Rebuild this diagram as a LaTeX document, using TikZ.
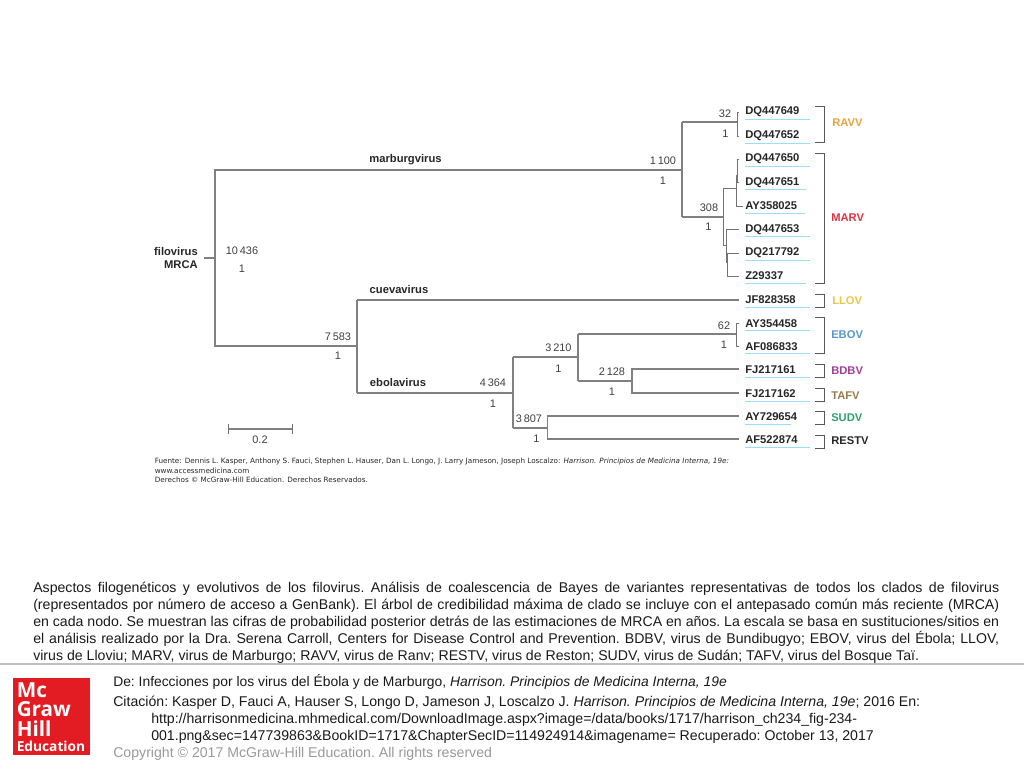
\documentclass[tikz,border=0pt]{standalone}
\usepackage{fontspec}
\setmainfont{Liberation Sans}
\newfontfamily\srcfont{DejaVu Sans}
\newfontfamily\logofont{Open Sans}
\usetikzlibrary{positioning,calc}

\begin{document}
\begin{tikzpicture}[
	x=0.75pt,y=-0.75pt,
	branch/.style={draw=black!50,line width=0.85pt},
	twig/.style={draw=black!55,line width=0.6pt},
	uline/.style={draw=cyan!40!white,line width=0.7pt},
	brack/.style={draw=black!65,line width=0.6pt},
	leaf/.style={anchor=west,inner sep=0pt,text width=48pt,minimum height=10.5pt,
		font=\fontsize{8.4}{10}\selectfont\bfseries,text=black!85,
		append after command={(\tikzlastnode.south west) edge[uline] (\tikzlastnode.south east)}},
	clade/.style={anchor=west,inner sep=0pt,font=\fontsize{8.4}{10}\selectfont\bfseries},
	age/.style={inner sep=0pt,font=\fontsize{8.2}{10}\selectfont,text=black!75},
	genus/.style={inner sep=0pt,font=\fontsize{8.4}{10}\selectfont\bfseries,text=black!85},
	source/.style={anchor=west,inner sep=0pt,font=\fontsize{5.42}{7}\srcfont,text=black!85},
	caption/.style={anchor=west,inner sep=0pt,font=\fontsize{10.6}{12}\selectfont\frenchspacing,text=black!90},
	logo/.style={anchor=west,inner sep=0pt,text=white,font=\fontsize{15.5}{15.5}\logofont\bfseries}
	]
	\useasboundingbox (0,0) rectangle (1024,768);
	
	% leaves
	\node[leaf] (dqa) at (745,112) {DQ447649};
	\node[leaf] (dqb) at (745,136) {DQ447652};
	\node[leaf] (dqc) at (745,159) {DQ447650};
	\node[leaf,text width=45.5pt] (dqd) at (745,182.5) {DQ447651};
	\node[leaf,text width=44.5pt] (ayc) at (745,206) {AY358025};
	\node[leaf] (dqe) at (745,229.5) {DQ447653};
	\node[leaf] (dqf) at (745,253) {DQ217792};
	\node[leaf,text width=45.5pt] (zed) at (745,276) {Z29337};
	\node[leaf] (jfa) at (745,300) {JF828358};
	\node[leaf] (aya) at (745,323.5) {AY354458};
	\node[leaf] (afa) at (745,346.5) {AF086833};
	\node[leaf] (fja) at (745,370) {FJ217161};
	\node[leaf] (fjb) at (745,394) {FJ217162};
	\node[leaf,text width=34pt] (ayb) at (745,417) {AY729654};
	\node[leaf] (afb) at (745,440) {AF522874};
	
	% junctions
	\coordinate (rootup) at (215,170);
	\coordinate (rootdn) at (215,346);
	\coordinate (rootst) at (204,258);
	\coordinate (marb) at (682,170);
	\coordinate (ravv) at (737.5,122);
	\coordinate (marv) at (723,217);
	\coordinate (mara) at (736,188);
	\coordinate (marc) at (737.5,175);
	\coordinate (mard) at (726,245);
	\coordinate (mare) at (727.5,262);
	\coordinate (low) at (357,346);
	\coordinate (ebol) at (513,393);
	\coordinate (ebta) at (578,357);
	\coordinate (ebov) at (736,334);
	\coordinate (ebtb) at (632,381);
	\coordinate (sure) at (547.5,428);
	
	% tree
	\draw[branch] (rootst)--(rootst-|rootup);
	\draw[branch] (marb)--(rootup)--(rootdn)--(low);
	\draw[branch] (marb|-ravv)--(marb|-marv);
	\draw[branch] (marb|-ravv)--(ravv);
	\draw[branch] (marb|-marv)--(marv);
	\draw[twig] (ravv|-dqa)--(ravv|-dqb);
	\draw[twig] ($(dqa.west)+(-6,0)$)-|(ravv);
	\draw[twig] ($(dqb.west)+(-6,0)$)-|(ravv);
	\draw[twig] (marv|-mara)--(marv|-mard);
	\draw[twig] (marv|-mara)--(mara);
	\draw[twig] (mara|-marc)--(marc);
	\draw[twig] (mara|-marc)--(mara|-ayc);
	\draw[twig] ($(ayc.west)+(-2,0)$)-|(mara);
	\draw[twig] ($(dqc.west)+(-6,0)$)-|(marc);
	\draw[twig] ($(dqd.west)+(-6,0)$)-|(marc);
	\draw[twig] (marv|-mard)--(mard);
	\draw[twig] ($(dqe.west)+(-6,0)$)-|(mard);
	\draw[twig] (mard)|-(mare);
	\draw[twig] ($(dqf.west)+(-6,0)$)-|(mare);
	\draw[twig] ($(zed.west)+(-6,0)$)-|(mare);
	\draw[branch] (low|-jfa)--(low|-ebol);
	\draw[branch] (low|-jfa)--($(jfa.west)+(-6,0)$);
	\draw[branch] (low|-ebol)--(ebol);
	\draw[branch] (ebol|-ebta)--(ebol|-sure);
	\draw[branch] (ebol|-ebta)--(ebta);
	\draw[branch] (ebta|-ebov)--(ebta|-ebtb);
	\draw[branch] (ebta|-ebov)--(ebov);
	\draw[twig] ($(aya.west)+(-6,0)$)-|(ebov);
	\draw[twig] ($(afa.west)+(-6,0)$)-|(ebov);
	\draw[branch] (ebta|-ebtb)--(ebtb);
	\draw[branch] ($(fja.west)+(-6,-1)$)-|(ebtb);
	\draw[branch] ($(fjb.west)+(-6,-1)$)-|(ebtb);
	\draw[branch] (ebol|-sure)--(sure);
	\draw[branch] ($(ayb.west)+(-6,-1)$)-|(sure);
	\draw[branch] ($(afb.west)+(-6,-1)$)-|(sure);
	
	% clades
	\draw[brack] (815,106)-|(824,142)--(815,142);
	\draw[brack] (815,153)-|(824,283)--(815,283);
	\draw[brack] (815,294)-|(824,307)--(815,307);
	\draw[brack] (815,317)-|(824,353)--(815,353);
	\draw[brack] (815,364)-|(824,377)--(815,377);
	\draw[brack] (815,388)-|(824,401)--(815,401);
	\draw[brack] (815,411)-|(824,424)--(815,424);
	\draw[brack] (815,435)-|(824,448)--(815,448);
	\node[clade,text={rgb,255:red,232;green,163;blue,61}] (cravv) at (832,123) {RAVV};
	\node[clade,text={rgb,255:red,221;green,51;blue,68}] (cmarv) at (831,217.5) {MARV};
	\node[clade,text={rgb,255:red,232;green,200;blue,74}] (cllov) at (832,300.5) {LLOV};
	\node[clade,text={rgb,255:red,91;green,150;blue,200}] (cebov) at (831,335) {EBOV};
	\node[clade,text={rgb,255:red,160;green,64;blue,154}] (cbdbv) at (831,370.5) {BDBV};
	\node[clade,text={rgb,255:red,154;green,123;blue,80}] (ctafv) at (831,395.5) {TAFV};
	\node[clade,text={rgb,255:red,46;green,158;blue,107}] (csudv) at (831,417.5) {SUDV};
	\node[clade,text=black!85] (crestv) at (831,440.5) {RESTV};
	
	% ages
	\node[age] (agea) at (725,114) {32};
	\node[age] (ageb) at (725.5,134) {1};
	\node[age] (agec) at (663,160.5) {1\,100};
	\node[age] (aged) at (663,181) {1};
	\node[age] (agee) at (709,208) {308};
	\node[age] (agef) at (708.5,227) {1};
	\node[age] (ageg) at (724,325.5) {62};
	\node[age] (ageh) at (724,345) {1};
	\node[age] (agei) at (242,251) {10\,436};
	\node[age] (agej) at (242,269) {1};
	\node[age] (agek) at (338,336.5) {7\,583};
	\node[age] (agel) at (338,356) {1};
	\node[age] (agem) at (493,383) {4\,364};
	\node[age] (agen) at (493,404) {1};
	\node[age] (ageo) at (558.5,348) {3\,210};
	\node[age] (agep) at (558.5,369) {1};
	\node[age] (ageq) at (612,371.5) {2\,128};
	\node[age] (ager) at (612,392) {1};
	\node[age] (ages) at (529,419) {3\,807};
	\node[age] (aget) at (536.5,439) {1};
	
	% genera
	\node[genus] (gmarb) at (405.5,159.5) {marburgvirus};
	\node[genus] (gcuev) at (399,289) {cuevavirus};
	\node[genus] (gebol) at (398,382) {ebolavirus};
	\node[genus,anchor=east] (gfilo) at (198,251) {filovirus};
	\node[genus,anchor=east] (gmrca) at (198,265) {MRCA};
	
	% scale
	\coordinate (scalea) at (228,429);
	\coordinate (scaleb) at (292,429);
	\draw[branch] (scalea)--(scaleb);
	\draw[twig] ($(scalea)+(0,-5)$)--($(scalea)+(0,5)$);
	\draw[twig] ($(scaleb)+(0,-5)$)--($(scaleb)+(0,5)$);
	\node[age] (sbar) at (260,439.5) {0.2};
	
	% source
	\node[source] (srca) at (154.5,461.5) {Fuente: Dennis L. Kasper, Anthony S. Fauci, Stephen L. Hauser, Dan L. Longo, J. Larry Jameson, Joseph Loscalzo: \textit{Harrison. Principios de Medicina Interna, 19e:}};
	\node[source] (srcb) at (154.5,470.5) {www.accessmedicina.com};
	\node[source] (srcc) at (154.5,479.5) {Derechos © McGraw-Hill Education. Derechos Reservados.};
	
	% caption
	\node[anchor=north west,inner sep=0pt,text width=724.5pt,align=justify,
		font=\fontsize{10.6}{12.9}\selectfont\frenchspacing,text=black!90] (capt) at (33,581.5) {Aspectos filogenéticos y evolutivos de los filovirus. Análisis de coalescencia de Bayes de variantes representativas de todos los clados de filovirus\linebreak (representados por número de acceso a GenBank). El árbol de credibilidad máxima de clado se incluye con el antepasado común más reciente (MRCA)\linebreak en cada nodo. Se muestran las cifras de probabilidad posterior detrás de las estimaciones de MRCA en años. La escala se basa en sustituciones/sitios en\linebreak el análisis realizado por la Dra. Serena Carroll, Centers for Disease Control and Prevention. BDBV, virus de Bundibugyo; EBOV, virus del Ébola; LLOV,\linebreak virus de Lloviu; MARV, virus de Marburgo; RAVV, virus de Ranv; RESTV, virus de Reston; SUDV, virus de Sudán; TAFV, virus del Bosque Taï.};
	
	% footer
	\draw[draw=black!25,line width=1pt] (0,664)--(1024,664);
	\node[fill={rgb,255:red,227;green,28;blue,35},minimum width=57.75pt,minimum height=57.75pt,inner sep=0pt,anchor=north west] (lbox) at (13,678) {};
	\node[logo] (lmc) at (16.5,690) {Mc};
	\node[logo] (lgr) at (16.5,709.5) {Graw};
	\node[logo] (lhi) at (16.5,729) {Hill};
	\node[logo,font=\fontsize{10.3}{10.3}\logofont\bfseries] (led) at (16.5,746.5) {Education};
	\node[caption,font=\fontsize{10.4}{12}\selectfont\frenchspacing] (cita) at (113,682) {De: Infecciones por los virus del Ébola y de Marburgo, \textit{Harrison. Principios de Medicina Interna, 19e}};
	\node[caption] (citb) at (113,703) {Citación: Kasper D, Fauci A, Hauser S, Longo D, Jameson J, Loscalzo J. \textit{Harrison. Principios de Medicina Interna, 19e}; 2016 En:};
	\node[caption] (citc) at (151,720) {http://harrisonmedicina.mhmedical.com/DownloadImage.aspx?image=/data/books/1717/harrison\_ch234\_fig-234-};
	\node[caption] (citd) at (151,737) {001.png\&sec=147739863\&BookID=1717\&ChapterSecID=114924914\&imagename= Recuperado: October 13, 2017};
	\node[caption,text=black!40] (cite) at (113,754) {Copyright © 2017 McGraw-Hill Education. All rights reserved};
\end{tikzpicture}
\end{document}
